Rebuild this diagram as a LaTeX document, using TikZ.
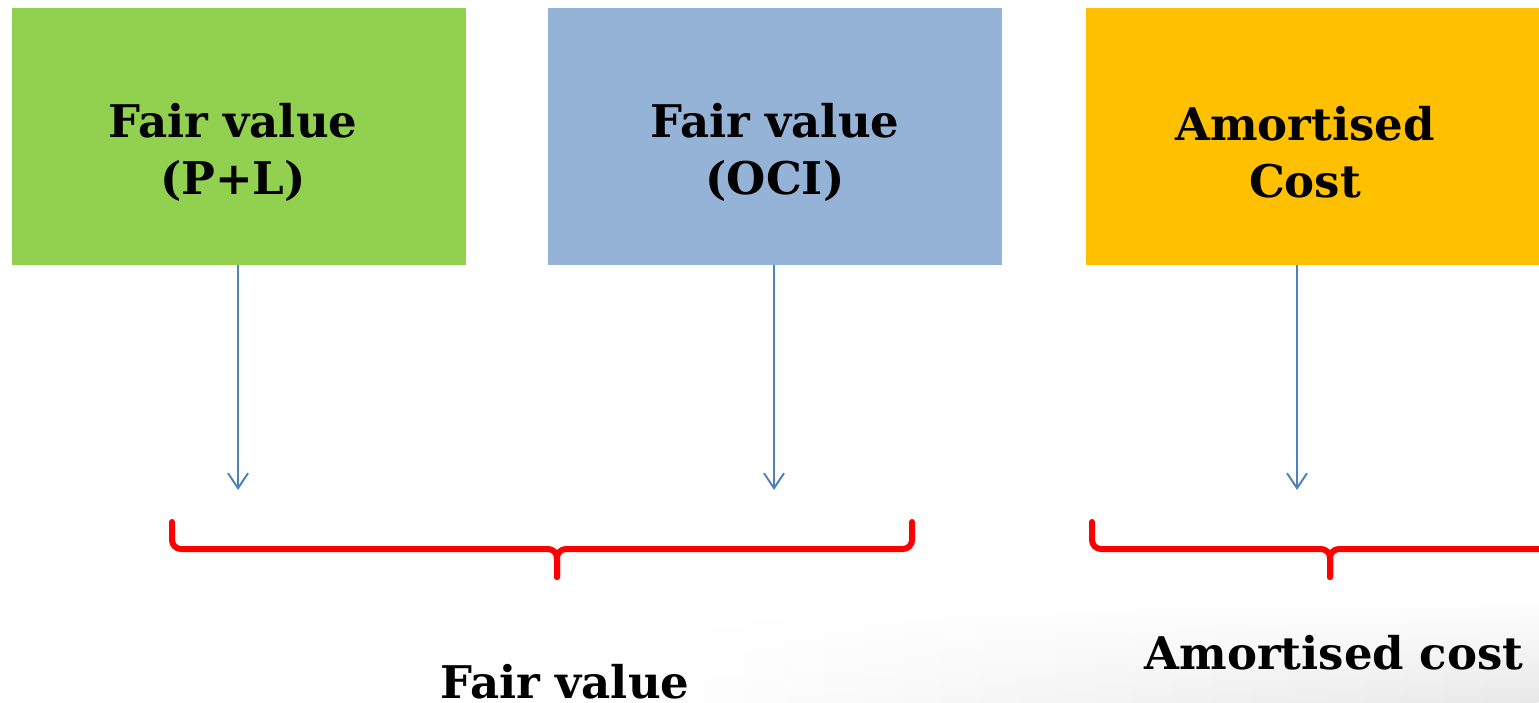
\documentclass[tikz,border=0pt]{standalone}
\usepackage{fontspec}
\setmainfont{DejaVu Serif}
\usetikzlibrary{arrows.meta,calc,fadings}
\definecolor{fgreen}{HTML}{92D050}
\definecolor{fblue}{HTML}{95B3D7}
\definecolor{forange}{HTML}{FFC000}
\definecolor{arrowblue}{HTML}{4F81BD}
\begin{document}
\begin{tikzpicture}[x=1pt,y=-1pt,
  box/.style={minimum width=454pt,minimum height=257pt,inner sep=0pt},
  boxtext/.style={inner sep=0pt,align=center,font=\fontsize{45}{57}\selectfont\bfseries},
  conn/.style={draw=arrowblue,line width=2pt,-{Straight Barb[length=15pt,width=20pt,line width=2pt]}},
  brace/.style={draw=red,line width=6pt,line cap=round,line join=round,rounded corners=9pt},
  lbl/.style={font=\fontsize{45}{57}\selectfont\bfseries,inner sep=0pt,anchor=base}]
\useasboundingbox (0,0) rectangle (1539,703);
\shade[left color=white,right color=black!9,path fading=north] (650,600) rectangle (1539,703);
\node[box,fill=fgreen] (g) at (239,136.5) {};
\node[box,fill=fblue] (b) at (775,136.5) {};
\node[box,fill=forange,minimum width=460pt] (o) at (1316,136.5) {};
\node[boxtext] (gt) at (233,152) {Fair value\\(P+L)};
\node[boxtext] (bt) at (775,152) {Fair value\\(OCI)};
\node[boxtext] (ot) at (1305,152) {Amortised\\Cost};
\coordinate (a1) at (238,490);
\coordinate (a2) at (774,490);
\coordinate (a3) at (1297,490);
\draw[conn] (g.south -| a1) -- (a1);
\draw[conn] (b.south -| a2) -- (a2);
\draw[conn] (o.south -| a3) -- (a3);
\coordinate (t1) at (557,577);
\coordinate (t2) at (1330,577);
\draw[brace] (172,522) -- (172,549) -- (557,549) -- (t1);
\draw[brace] (912,522) -- (912,549) -- (557,549) -- (t1);
\draw[brace] (1092,522) -- (1092,549) -- (1330,549) -- (t2);
\draw[brace] (1545,549) -- (1330,549) -- (t2);
\node[lbl] (fv) at (565,698) {Fair value};
\node[lbl] (ac) at (1334,669) {Amortised cost};
\end{tikzpicture}
\end{document}
